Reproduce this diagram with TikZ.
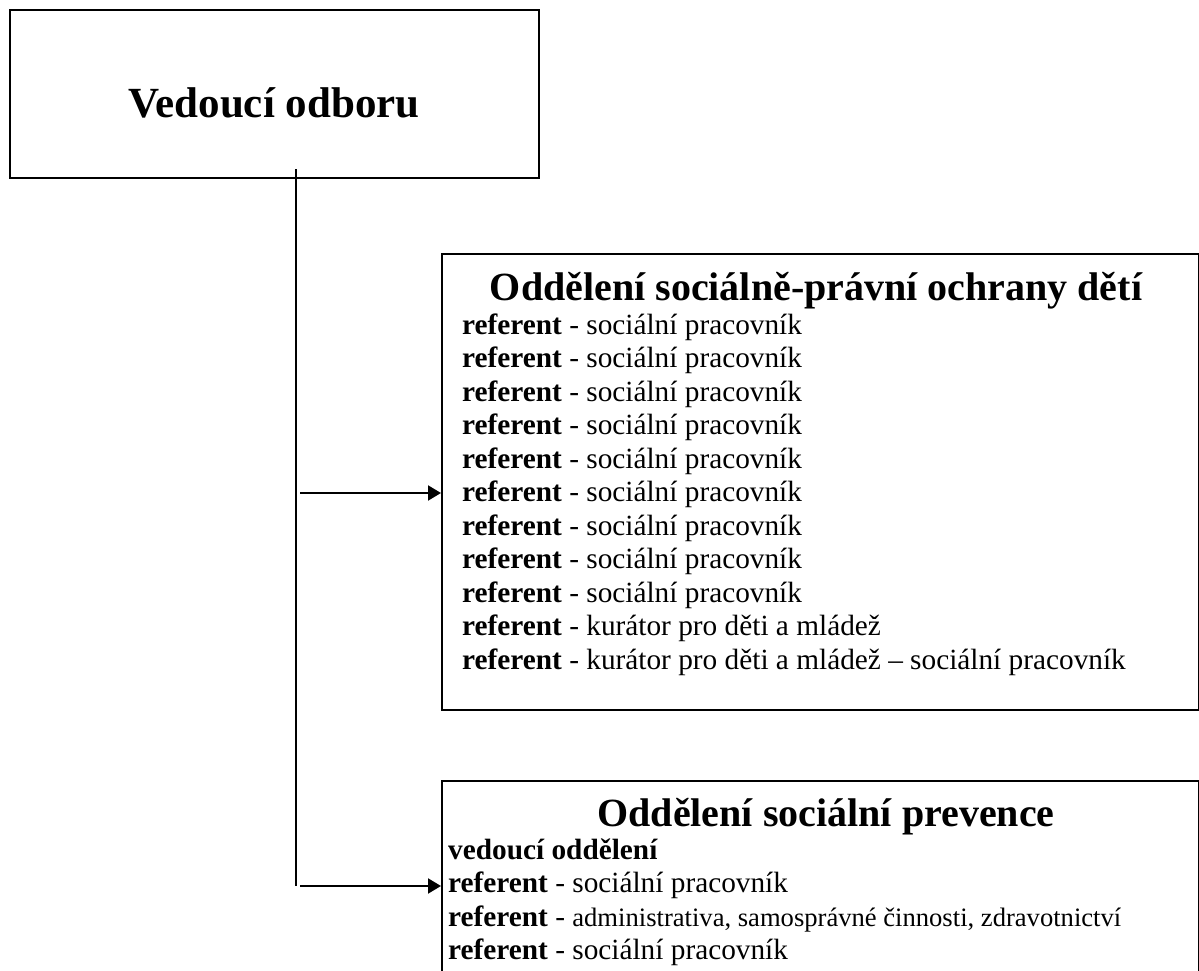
\documentclass[tikz,border=0pt]{standalone}
\usepackage{fontspec}
\setmainfont{Liberation Serif}
\usetikzlibrary{arrows.meta}
\tikzset{
  box/.style={draw, line width=2pt, inner sep=0pt, anchor=north west},
  link/.style={line width=2pt},
  arr/.style={line width=2pt, -{Triangle[length=13pt,width=15pt]}},
  body/.style={anchor=base west, inner sep=0pt, font=\fontsize{29.3}{33.5}\selectfont},
  title/.style={anchor=base, inner sep=0pt, font=\bfseries\fontsize{40}{46}\selectfont},
  head/.style={anchor=base, inner sep=0pt, font=\bfseries\fontsize{43}{50}\selectfont}
}
\begin{document}
\begin{tikzpicture}[x=1pt,y=-1pt]
\useasboundingbox (0,0) rectangle (1199,971);
\clip (0,0) rectangle (1199,971);
\fill[white] (0,0) rectangle (1199,971);
% head box
\node[box, minimum width=529pt, minimum height=168pt] (headbox) at (9,9) {};
\node[head] (headtxt) at (274,118) {Vedoucí odboru};
% upper department
\node[box, minimum width=757pt, minimum height=456pt] (osp) at (441,253) {};
\node[title] (osptitle) at (816,300) {Oddělení sociálně-právní ochrany dětí};
\foreach \i in {1,...,9}
  \node[body] (ospl\i) at (462,{334+33.5*(\i-1)}) {\textbf{referent} - sociální pracovník};
\node[body] (ospl10) at (462,{334+33.5*9}) {\textbf{referent} - kurátor pro děti a mládež};
\node[body] (ospl11) at (462,{334+33.5*10}) {\textbf{referent} - kurátor pro děti a mládež – sociální pracovník};
% lower department
\node[box, minimum width=757pt, minimum height=240pt] (prev) at (441,780) {};
\node[title] (prevtitle) at (826,826) {Oddělení sociální prevence};
\node[body] (prevl1) at (448,859) {\textbf{vedoucí oddělení}};
\node[body] (prevl2) at (448,892.5) {\textbf{referent} - sociální pracovník};
\node[body] (prevl3) at (448,926) {\textbf{referent} - {\fontsize{26.6}{30}\selectfont administrativa, samosprávné činnosti, zdravotnictví}};
\node[body] (prevl4) at (448,959.5) {\textbf{referent} - sociální pracovník};
% connectors
\coordinate (vtop) at (296,169);
\coordinate (vbot) at (296,886);
\draw[link] (vtop) -- (vbot);
\coordinate (a1) at (300,493);
\coordinate (a2) at (300,886);
\draw[arr] (a1) -- (a1 -| osp.west);
\draw[arr] (a2) -- (a2 -| prev.west);
\end{tikzpicture}
\end{document}
